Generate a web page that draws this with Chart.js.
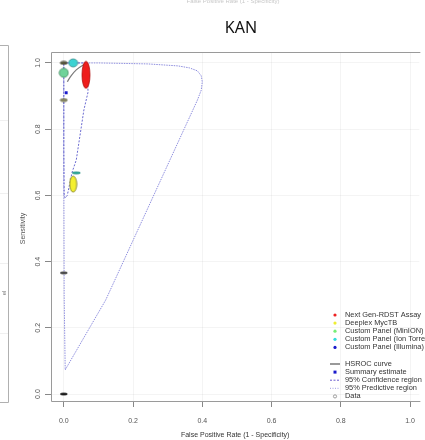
<!DOCTYPE html>
<html>
<head>
<meta charset="utf-8">
<script src="https://cdn.jsdelivr.net/npm/chart.js@4"></script>
<style>
  html, body { margin: 0; padding: 0; background: #fff; }
  canvas { display: block; }
</style>
</head>
<body>
<canvas id="roc" width="425" height="440"></canvas>
<script>
// study data points (FPR, sensitivity)
var studyNames = ["Next Gen-RDST", "Ion Torrent", "MinION", "Study A", "Study B", "Study C", "Study D", "Deeplex", "Ion Torrent 2"];
var studyFpr = [0.064, 0.027, 0.0, 0.0, 0.0, 0.0, 0.0, 0.027, 0.036];
var studySens = [0.964, 1.0, 0.97, 1.0, 0.888, 0.366, 0.0, 0.634, 0.668];

// summary estimate
var summaryFpr = [0.007];
var summarySens = [0.91];

// HSROC curve
var hsrocFpr = [0.01, 0.021, 0.036, 0.056, 0.067];
var hsrocSens = [0.943, 0.961, 0.979, 0.994, 0.998];

// 95% confidence region
var confFpr = [0.0, 0.067, 0.07, 0.058, 0.036, 0.024, 0.01, 0.004, 0.001, 0.0, 0.0];
var confSens = [1.0, 1.0, 0.912, 0.858, 0.707, 0.67, 0.6, 0.592, 0.6, 0.737, 1.0];

// 95% predictive region
var predFpr = [0.0, 0.1, 0.243, 0.33, 0.363, 0.386, 0.397, 0.4, 0.397, 0.386, 0.121, 0.004, 0.001, 0.0, 0.0];
var predSens = [1.0, 1.0, 0.997, 0.991, 0.985, 0.976, 0.961, 0.943, 0.918, 0.888, 0.284, 0.073, 0.3, 0.7, 1.0];

var tickValues = [0, 0.2, 0.4, 0.6, 0.8, 1.0];

var legendTop = ["Next Gen-RDST Assay", "Deeplex MycTB", "Custom Panel (MinION)", "Custom Panel (Ion Torrent)", "Custom Panel (Illumina)"];
var legendBottom = ["HSROC curve", "Summary estimate", "95% Confidence region", "95% Predictive region", "Data"];

// marker styles (ellipse size in px, colours)
var studyW = [8, 9, 9, 7, 7, 7, 7, 7, 8];
var studyH = [27, 8, 9, 3, 3, 2, 2, 16, 2];
var studyFill = ["#ee1c1c", "#3cd2d2", "#6fd39a", "#5e5e40", "#8c8c66", "#555555", "#222222", "#f4f030", "#30b8a8"];
var studyStroke = ["#b01010", "#3b8a8a", "#3f8a5f", "#3a3a2a", "#6a6a4a", "#333333", "#111111", "#7a7a20", "#208878"];
var legendColors = ["#ee2222", "#eeee33", "#77ee77", "#33dddd", "#1a1acc"];

function pts(xs, ys) {
  return xs.map(function (x, i) { return { x: x, y: ys[i] }; });
}

function ellipseImg(w, h, fill, stroke) {
  var c = document.createElement("canvas");
  c.width = w + 2;
  c.height = h + 2;
  var g = c.getContext("2d");
  g.beginPath();
  g.ellipse((w + 2) / 2, (h + 2) / 2, w / 2, h / 2, 0, 0, Math.PI * 2);
  g.fillStyle = fill;
  g.fill();
  g.lineWidth = 0.8;
  g.strokeStyle = stroke;
  g.stroke();
  return c;
}

var studyImgs = studyW.map(function (w, i) {
  return ellipseImg(w, studyH[i], studyFill[i], studyStroke[i]);
});

var FONT = "'Liberation Sans', Arial, sans-serif";

var extras = {
  id: "extras",
  afterDraw: function (chart) {
    var g = chart.ctx;
    var a = chart.chartArea;
    var ys = chart.scales.y;
    g.save();
    // plot box
    g.strokeStyle = "#9a9a9a";
    g.lineWidth = 1;
    g.beginPath();
    g.moveTo(a.right + 1, a.top + 0.5);
    g.lineTo(a.left + 0.5, a.top + 0.5);
    g.lineTo(a.left + 0.5, a.bottom + 0.5);
    g.lineTo(a.right + 1, a.bottom + 0.5);
    g.stroke();

    // neighbouring panel edge
    g.strokeStyle = "#b0b0b0";
    g.beginPath();
    g.moveTo(0, 45.5); g.lineTo(8.5, 45.5); g.lineTo(8.5, 402.5); g.lineTo(0, 402.5);
    g.stroke();
    g.strokeStyle = "#f0f0f0";
    [120, 193, 263, 333].forEach(function (y) {
      g.beginPath(); g.moveTo(0, y + 0.5); g.lineTo(8, y + 0.5); g.stroke();
    });
    g.fillStyle = "#777";
    g.font = "6px " + FONT;
    g.save();
    g.translate(4, 293);
    g.rotate(-Math.PI / 2);
    g.textAlign = "center";
    g.textBaseline = "middle";
    g.fillText("el", 0, 0);
    g.restore();

    // faint header text and title
    g.fillStyle = "#c8c8c8";
    g.font = "6px " + FONT;
    g.textAlign = "center";
    g.textBaseline = "middle";
    g.fillText("False Positive Rate (1 - Specificity)", 233, 1);
    g.fillStyle = "#111";
    g.font = "16px 'Noto Sans', 'Open Sans', sans-serif";
    g.fillText("KAN", 241, 28);

    // y tick labels (rotated, R style)
    g.fillStyle = "#555";
    g.font = "7px " + FONT;
    tickValues.forEach(function (v) {
      var y = ys.getPixelForValue(v);
      g.save();
      g.translate(38, y);
      g.rotate(-Math.PI / 2);
      g.fillText(v.toFixed(1), 0, 0);
      g.restore();
    });
    g.save();
    g.translate(23, (a.top + a.bottom) / 2 + 2);
    g.rotate(-Math.PI / 2);
    g.fillText("Sensitivity", 0, 0);
    g.restore();

    // legend
    g.textAlign = "left";
    g.font = "7.4px " + FONT;
    var mx = 335, tx = 345, step = 8.1;
    legendTop.forEach(function (t, i) {
      var y = 315 + i * step;
      g.fillStyle = legendColors[i];
      g.beginPath(); g.arc(mx, y, 1.6, 0, Math.PI * 2); g.fill();
      g.fillStyle = "#333";
      g.fillText(t, tx, y);
    });
    var y0 = 364;
    legendBottom.forEach(function (t, i) {
      var y = y0 + i * step;
      if (i === 0) {
        g.strokeStyle = "#555"; g.lineWidth = 1.2; g.setLineDash([]);
        g.beginPath(); g.moveTo(330, y); g.lineTo(340, y); g.stroke();
      } else if (i === 1) {
        g.fillStyle = "#1a1acc"; g.fillRect(mx - 1.5, y - 1.5, 3, 3);
      } else if (i === 2) {
        g.strokeStyle = "#6a5acd"; g.lineWidth = 1; g.setLineDash([2, 1.5]);
        g.beginPath(); g.moveTo(330, y); g.lineTo(340, y); g.stroke();
      } else if (i === 3) {
        g.strokeStyle = "#9a9ae0"; g.lineWidth = 1; g.setLineDash([1, 1.5]);
        g.beginPath(); g.moveTo(330, y); g.lineTo(340, y); g.stroke();
      } else {
        g.setLineDash([]);
        g.strokeStyle = "#888"; g.lineWidth = 0.8;
        g.beginPath(); g.arc(mx, y, 1.6, 0, Math.PI * 2); g.stroke();
      }
      g.fillStyle = "#333";
      g.fillText(t, tx, y);
    });
    g.restore();
  }
};

var setTicks = function (scale) {
  scale.ticks = tickValues.map(function (v) { return { value: v }; });
};

new Chart(document.getElementById("roc").getContext("2d"), {
  type: "scatter",
  data: {
    datasets: [
      {
        label: "Data",
        data: pts(studyFpr, studySens),
        pointStyle: studyImgs,
        showLine: false
      },
      {
        label: "Summary estimate",
        data: pts(summaryFpr, summarySens),
        pointStyle: "rect",
        pointRadius: 2,
        backgroundColor: "#1a1acc",
        borderColor: "#1a1acc",
        borderWidth: 0,
        showLine: false
      },
      {
        label: "HSROC curve",
        data: pts(hsrocFpr, hsrocSens),
        showLine: true,
        borderColor: "#7a7a7a",
        borderWidth: 1.2,
        pointRadius: 0,
        tension: 0.3
      },
      {
        label: "95% Confidence region",
        data: pts(confFpr, confSens),
        showLine: true,
        borderColor: "#6a6ad0",
        borderWidth: 1,
        borderDash: [2, 1.5],
        pointRadius: 0
      },
      {
        label: "95% Predictive region",
        data: pts(predFpr, predSens),
        showLine: true,
        borderColor: "#8e8ede",
        borderWidth: 1,
        borderDash: [1.5, 1],
        pointRadius: 0
      }
    ]
  },
  options: {
    responsive: false,
    animation: false,
    layout: { padding: { top: 52, left: 0, right: 0, bottom: 0 } },
    plugins: {
      legend: { display: false },
      tooltip: { enabled: false },
      title: { display: false }
    },
    scales: {
      x: {
        type: "linear",
        min: -0.037,
        max: 1.027,
        afterBuildTicks: setTicks,
        afterFit: function (s) { s.height = 39; },
        border: { display: false },
        grid: {
          color: "rgba(0,0,0,0.045)",
          tickColor: "#888",
          tickLength: 6,
          drawTicks: true
        },
        ticks: {
          padding: 10,
          color: "#555",
          font: { family: FONT, size: 7 },
          maxRotation: 0,
          callback: function (v) { return Number(v).toFixed(1); }
        },
        title: {
          display: true,
          text: "False Positive Rate (1 - Specificity)",
          color: "#333",
          font: { family: FONT, size: 7 },
          padding: { top: 0, bottom: 1 }
        }
      },
      y: {
        type: "linear",
        min: -0.021,
        max: 1.033,
        afterBuildTicks: setTicks,
        afterFit: function (s) { s.width = 51; },
        border: { display: false },
        grid: {
          color: "rgba(0,0,0,0.045)",
          tickColor: "#888",
          tickLength: 6,
          drawTicks: true
        },
        ticks: { display: false }
      }
    }
  },
  plugins: [extras]
});
</script>
</body>
</html>
